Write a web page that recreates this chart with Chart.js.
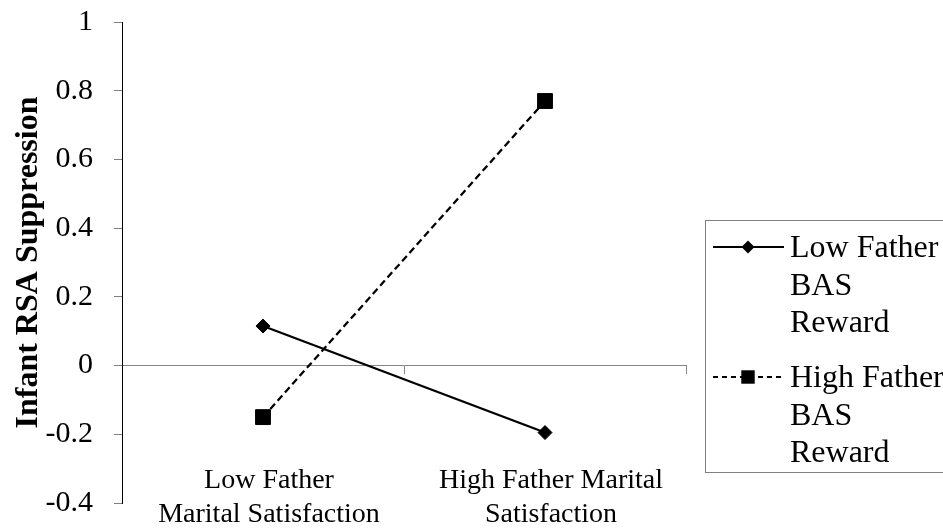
<!DOCTYPE html>
<html><head><meta charset="utf-8">
<script src="https://cdn.jsdelivr.net/npm/chart.js@4.4.0/dist/chart.umd.min.js"></script>
<style>html,body{margin:0;padding:0;background:#fff;} canvas{display:block;}</style>
</head><body>
<canvas id="c" width="943" height="529"></canvas>
<script>
const categories = [["Low Father","Marital Satisfaction"],["High Father Marital","Satisfaction"]];
const seriesNames = ["Low Father BAS Reward","High Father BAS Reward"];
const lowBAS = [0.115, -0.195];
const highBAS = [-0.15, 0.77];
const yMin = -0.4, yMax = 1, yStep = 0.2;
const yTitle = "Infant RSA Suppression";
const SERIF = "'Liberation Serif','Times New Roman',serif";

function wrapText(ctx, text, maxW){
  const words = text.split(' '); const lines = []; let cur = '';
  words.forEach(w => { const t = cur ? cur + ' ' + w : w;
    if (cur && ctx.measureText(t).width > maxW) { lines.push(cur); cur = w; } else cur = t; });
  if (cur) lines.push(cur); return lines;
}
function marker(ctx, style, x, y, r){
  ctx.beginPath();
  if (style === 'rectRot'){ ctx.moveTo(x-r,y); ctx.lineTo(x,y-r); ctx.lineTo(x+r,y); ctx.lineTo(x,y+r); ctx.closePath(); }
  else { const s = r*Math.SQRT1_2; ctx.rect(x-s,y-s,2*s,2*s); }
  ctx.fillStyle='#000'; ctx.fill();
}

const categoryLabels = { id:'categoryLabels', afterDraw(chart){
  const ctx = chart.ctx, xs = chart.scales.x;
  ctx.save(); ctx.font = '28px ' + SERIF; ctx.fillStyle = '#000';
  ctx.textAlign = 'center'; ctx.textBaseline = 'alphabetic';
  chart.data.labels.forEach((lab,i) => { const x = xs.getPixelForValue(i) + 6;
    lab.forEach((line,j) => ctx.fillText(line, x, 488 + j*34)); });
  ctx.restore();
}};

const boxLegend = { id:'boxLegend', afterDraw(chart){
  const ctx = chart.ctx;
  ctx.save();
  ctx.strokeStyle = '#808080'; ctx.lineWidth = 1; ctx.setLineDash([]);
  ctx.strokeRect(705.5, 220.5, 260, 252);
  ctx.font = '32px ' + SERIF; ctx.textAlign = 'left'; ctx.textBaseline = 'alphabetic';
  const starts = [257, 387];
  chart.data.datasets.forEach((ds,i) => {
    const lines = wrapText(ctx, ds.label, 165);
    const base = starts[i], cy = base - 10;
    ctx.beginPath(); ctx.setLineDash(ds.borderDash ? [5,4] : []);
    ctx.lineWidth = 2; ctx.strokeStyle = '#000';
    ctx.moveTo(713, cy); ctx.lineTo(784, cy); ctx.stroke(); ctx.setLineDash([]);
    marker(ctx, ds.pointStyle, 748, cy, ds.pointStyle === 'rect' ? 9.5 : 6.5);
    ctx.fillStyle = '#000';
    lines.forEach((l,j) => ctx.fillText(l, 790, base + j*37.5));
  });
  ctx.restore();
}};

new Chart(document.getElementById('c'), {
  type: 'line',
  data: {
    labels: categories,
    datasets: [
      { label: seriesNames[0], data: lowBAS, borderColor:'#000', backgroundColor:'#000', borderWidth:2.25,
        pointStyle:'rectRot', pointRadius:7, pointHoverRadius:7, pointBorderWidth:1, pointBackgroundColor:'#000', pointBorderColor:'#000', tension:0 },
      { label: seriesNames[1], data: highBAS, borderColor:'#000', backgroundColor:'#000', borderWidth:2.25, borderDash:[7,4],
        pointStyle:'rect', pointRadius:10.5, pointHoverRadius:10.5, pointBorderWidth:1, pointBackgroundColor:'#000', pointBorderColor:'#000', tension:0 }
    ]
  },
  options: {
    responsive:false, animation:false, events:[],
    layout:{ padding:{ left:0, right:257, top:22, bottom:26 } },
    plugins:{ legend:{display:false}, tooltip:{enabled:false} },
    scales:{
      x:{ type:'category', position:{ y:0 }, offset:true,
          grid:{ offset:true, drawOnChartArea:false, drawTicks:true, tickLength:8, color:'#868686' },
          border:{ color:'#868686', width:1 }, ticks:{ display:false } },
      y:{ type:'linear', position:'left', min:yMin, max:yMax,
          ticks:{ stepSize:yStep, color:'#000', padding:21, font:{ family:SERIF, size:30 },
                  callback: v => String(Math.round(v*10)/10) },
          grid:{ drawOnChartArea:false, tickLength:8, color:'#808080' },
          border:{ color:'#000', width:1 },
          title:{ display:true, text:yTitle, color:'#000', font:{ family:SERIF, size:32, weight:'bold' }, padding:{ top:10, bottom:0 } },
          afterFit(s){ s.width = 122; s.paddingTop = 0; s.paddingBottom = 0; } }
    }
  },
  plugins:[categoryLabels, boxLegend]
});
</script>
</body></html>
